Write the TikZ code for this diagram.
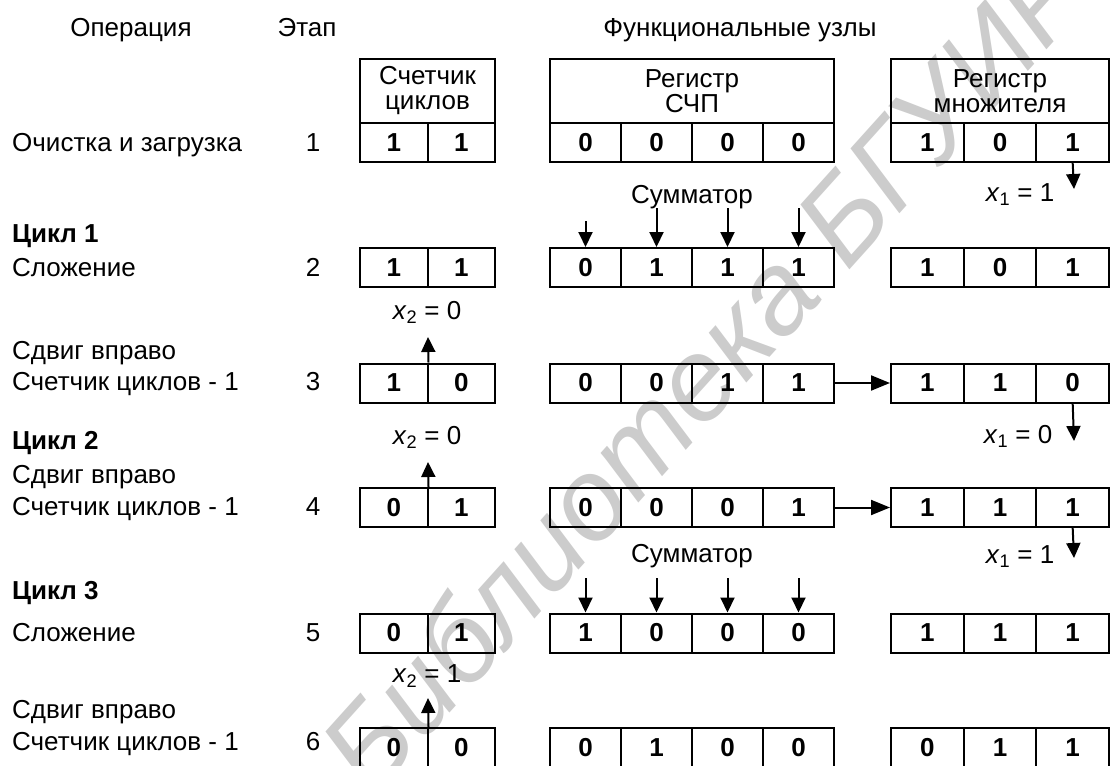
\documentclass[tikz,border=0pt]{standalone}
\usepackage{fontspec}
\setmainfont{Liberation Sans}
\usetikzlibrary{arrows.meta}

\tikzset{
  txt/.style={font=\fontsize{26}{26}\selectfont, inner sep=0pt},
  cell/.style={draw, line width=2pt, minimum height=39pt, inner sep=0pt,
               font=\fontsize{26}{26}\selectfont\bfseries},
  head/.style={draw, line width=2pt, minimum height=64pt, inner sep=0pt,
               align=center, font=\fontsize{26}{25}\selectfont},
  arr/.style={line width=2pt, -{Triangle[length=15pt,width=14pt]}},
  hline/.style={line width=2pt, -{Triangle[length=19pt,width=15pt]}},
  wmark/.style={text=black!20, inner sep=0pt,
                font=\fontsize{116}{116}\selectfont\itshape},
}

% one row of the three registers: #1 row id, #2 centre y,
% #3 counter bits, #4 partial-product bits, #5 multiplier bits
\newcommand{\regrow}[5]{%
  \foreach \v [count=\i] in {#3}
    \node[cell, minimum width=67.5pt] (k#1-\i) at ({360+67.5*(\i-0.5)},#2) {\v};
  \foreach \v [count=\i] in {#4}
    \node[cell, minimum width=71pt] (s#1-\i) at ({550+71*(\i-0.5)},#2) {\v};
  \foreach \v [count=\i] in {#5}
    \node[cell, minimum width=72.67pt] (m#1-\i) at ({891+72.67*(\i-0.5)},#2) {\v};
}

\begin{document}
\begin{tikzpicture}[x=1pt, y=-1pt]
\useasboundingbox (0,0) rectangle (1110,765);
\clip (0,0) rectangle (1110,765);

% watermark
\node[wmark, rotate=48, anchor=base west] (wm) at (372,800) {Библиотека БГУИР};

% column titles
\begin{scope}[every node/.style={txt, anchor=base}]
\node (tOp)  at (131,37) {Операция};
\node (tSt)  at (307,37) {Этап};
\node (tFn)  at (740,37) {Функциональные узлы};
\end{scope}

% register headers
\node[head, minimum width=135pt]   (hK) at (427.5,91) {Счетчик\\циклов};
\node[head, minimum width=284pt]   (hS) at (692,91)   {Регистр\\СЧП};
\node[head, minimum width=218pt]   (hM) at (1000,91)  {Регистр\\множителя};

% register contents, stage by stage
\regrow{1}{142.5}{1,1}{0,0,0,0}{1,0,1}
\regrow{2}{267.5}{1,1}{0,1,1,1}{1,0,1}
\regrow{3}{383}{1,0}{0,0,1,1}{1,1,0}
\regrow{4}{507.5}{0,1}{0,0,0,1}{1,1,1}
\regrow{5}{633}{0,1}{1,0,0,0}{1,1,1}
\regrow{6}{747.5}{0,0}{0,1,0,0}{0,1,1}

% operations column
\begin{scope}[every node/.style={txt, anchor=base west}]
\node (o1)  at (12,151) {Очистка и загрузка};
\node (c1)  at (12,242) {\bfseries Цикл 1};
\node (o2)  at (12,276) {Сложение};
\node (o3a) at (12,359) {Сдвиг вправо};
\node (o3b) at (12,390) {Счетчик циклов - 1};
\node (c2)  at (12,449) {\bfseries Цикл 2};
\node (o4a) at (12,483) {Сдвиг вправо};
\node (o4b) at (12,515) {Счетчик циклов - 1};
\node (c3)  at (12,599) {\bfseries Цикл 3};
\node (o5)  at (12,641) {Сложение};
\node (o6a) at (12,718) {Сдвиг вправо};
\node (o6b) at (12,750) {Счетчик циклов - 1};
\end{scope}

% stage numbers
\foreach \n/\y in {1/151,2/276,3/390,4/515,5/641,6/750}
  \node[txt, anchor=base] (e\n) at (313,\y) {\n};

% adder inputs
\node[txt] (sum2) at (692,197) {Сумматор};
\node[txt] (sum5) at (692,556) {Сумматор};
\foreach \i/\t in {1/221,2/208,3/208,4/208} {
  \coordinate (a2-\i) at ({550+71*(\i-0.5)},\t);
  \draw[arr] (a2-\i) -- (s2-\i.north);
}
\foreach \i in {1,...,4} {
  \coordinate (a5-\i) at ({550+71*(\i-0.5)},578);
  \draw[arr] (a5-\i) -- (s5-\i.north);
}

% multiplier low bit
\coordinate (x1a) at (1074,189);
\coordinate (x1b) at (1074,441);
\coordinate (x1c) at (1074,558);
\draw[arr] (m1-3.south) -- (x1a);
\draw[arr] (m3-3.south) -- (x1b);
\draw[arr] (m4-3.south) -- (x1c);
\node[txt] (lx1a) at (1020,195) {\textit{x}\textsubscript{1} = 1};
\node[txt] (lx1b) at (1018,436) {\textit{x}\textsubscript{1} = 0};
\node[txt] (lx1c) at (1020,557) {\textit{x}\textsubscript{1} = 1};

% counter carry bit
\coordinate (x2a) at (428,337);
\coordinate (x2b) at (428,462);
\coordinate (x2c) at (428,698);
\draw[arr] (k3-1.north east) -- (x2a);
\draw[arr] (k4-1.north east) -- (x2b);
\draw[arr] (k6-1.north east) -- (x2c);
\node[txt] (lx2a) at (427,312) {\textit{x}\textsubscript{2} = 0};
\node[txt] (lx2b) at (427,437) {\textit{x}\textsubscript{2} = 0};
\node[txt] (lx2c) at (427,676) {\textit{x}\textsubscript{2} = 1};

% shift from partial product into multiplier
\draw[hline] (s3-4.east) -- (m3-1.west);
\draw[hline] (s4-4.east) -- (m4-1.west);
\end{tikzpicture}
\end{document}
